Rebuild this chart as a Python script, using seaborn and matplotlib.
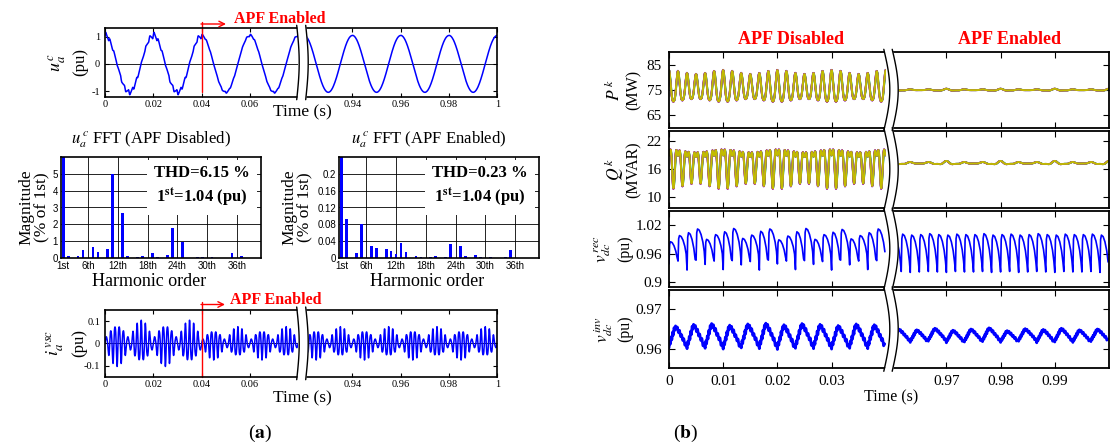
import numpy as np
import pandas as pd
import matplotlib
matplotlib.use('Agg')
import matplotlib.pyplot as plt
import seaborn as sns

###########################################################
#  Values                             #
###########################################################
# (a) u_a^c spectrum, % of the fundamental (1st = 1.04 pu)
harm_off = [1, 2, 4, 5, 7, 8, 10, 11, 13, 14, 16, 17, 19, 20, 22, 23, 25, 28, 29, 31, 35, 37]
mag_off = [100, 0.14, 0.14, 0.49, 0.66, 0.39, 0.55, 5.0, 2.65, 0.14, 0.08, 0.14, 0.33,
           0.08, 0.20, 1.78, 0.97, 0.08, 0.08, 0.08, 0.32, 0.14]
harm_on = [1, 2, 4, 5, 7, 8, 10, 11, 12, 13, 14, 16, 17, 19, 20, 22, 23, 25, 26, 28, 29, 31, 34, 35]
mag_on = [100, 0.092, 0.013, 0.081, 0.029, 0.024, 0.022, 0.018, 0.010, 0.037, 0.016, 0.0055,
          0.003, 0.003, 0.0055, 0.003, 0.034, 0.030, 0.0055, 0.008, 0.003, 0.003, 0.003, 0.020]
u_fund = 1.04
transient_share = 0.35  # harmonic content still left between 0.04 and 0.08 s
thd_labels = ['THD=6.15 %', 'THD=0.23 %']
fund_label = r'1$^{\mathbf{st}}$=1.04 (pu)'
fft_titles = [r'$u_a^{\,c}$ FFT (APF Disabled)', r'$u_a^{\,c}$ FFT (APF Enabled)']
harm_ticks = [1, 6, 12, 18, 24, 30, 36]
harm_ticklabels = ['1st', '6th', '12th', '18th', '24th', '30th', '36th']
fft_yticks = [[0, 1, 2, 3, 4, 5], [0, 0.04, 0.08, 0.12, 0.16, 0.2]]
fft_yticklabels = [['0', '1', '2', '3', '4', '5'], ['0', '0.04', '0.08', '0.12', '0.16', '0.2']]
fft_ytop = [6, 0.24]

# (a) APF current i_a^vsc: harmonic order and peak value (pu)
i_order = [11, 13, 23, 25]
i_amp_off = [0.058, -0.032, 0.008, -0.006]
i_amp_on = [0.040, -0.024, 0.006, -0.005]

apf_time = 0.04
a_windows = [(0.0, 0.08), (0.92, 1.0)]
a_ticks = [[0, 0.02, 0.04, 0.06], [0.94, 0.96, 0.98, 1.0]]
a_ticklabels = [['0', '0.02', '0.04', '0.06'], ['0.94', '0.96', '0.98', '1']]

# (b) windows, disabled on the left and enabled on the right
b_windows = [(0.0, 0.04), (0.96, 1.0)]
b_ticks = [[0, 0.01, 0.02, 0.03], [0.97, 0.98, 0.99]]
b_ticklabels = [['0', '0.01', '0.02', '0.03'], ['0.97', '0.98', '0.99']]

# P^k and Q^k: level, ripple swing, 2nd ripple swing, envelope depth  [disabled, enabled]
p_level = [75.6, 75.0]
p_swing = [5.6, 0.22]
p_swing2 = [0.9, 0.10]
q_level = [17.4, 17.3]
q_swing = [3.2, 0.22]
q_swing2 = [-1.8, 0.10]
pq_env = [0.12, 0.5]
env_hz = 100
ripple_hz = [600, 300]
trace_names = ['k1', 'k2', 'k3', 'k4', 'k5', 'k6', 'k7']
trace_colors = ['#0000ff', '#00a000', '#ff0000', '#00bfbf', '#d000d0', '#9a8060', '#c2bb00']
trace_phase = [0.10, -0.10, 0.06, -0.07, 0.05, 0.12, 0.0]
trace_gain = [1.02, 0.99, 1.01, 0.985, 1.02, 1.0, 1.0]

# v_dc^rec, one tooth per 1/600 s
rec_period = 1 / 600
rec_tooth_phase = [0.0, 0.07, 0.16, 0.35, 0.55, 0.75, 0.90]
rec_tooth_level = [0.0, 0.88, 1.0, 0.96, 0.82, 0.58, 0.28]
rec_peak_off = [0.985, 0.998, 1.004, 1.012, 0.990, 1.000, 1.006, 1.013, 0.992, 0.999, 1.007, 1.012,
                0.989, 0.997, 1.006, 1.013, 0.990, 1.000, 1.005, 1.011, 0.991, 0.998, 1.004, 1.012]
rec_trough_off = [0.938, 0.944, 0.925, 0.946, 0.937, 0.944, 0.926, 0.945, 0.936, 0.943, 0.925, 0.946,
                  0.938, 0.944, 0.926, 0.945, 0.937, 0.943, 0.925, 0.946, 0.936, 0.944, 0.926, 0.945]
rec_peak_on = [1.000, 1.001, 0.999, 1.000, 1.002, 1.000, 0.999, 1.001, 1.000, 1.000, 1.002, 0.999,
               1.000, 1.001, 0.999, 1.000, 1.002, 1.000, 0.999, 1.001, 1.000, 1.000, 1.001, 0.999]
rec_trough_on = [0.921, 0.922, 0.920, 0.921, 0.922, 0.921, 0.920, 0.922, 0.921, 0.921, 0.922, 0.920,
                 0.921, 0.922, 0.920, 0.921, 0.922, 0.921, 0.920, 0.922, 0.921, 0.921, 0.922, 0.920]

# v_dc^inv, one ragged tooth per 1/300 s
inv_period = 1 / 300
inv_tooth_phase = [0.0, 0.04, 0.08, 0.12, 0.16, 0.20, 0.24, 0.28, 0.32, 0.36, 0.40,
                   0.46, 0.52, 0.58, 0.64, 0.70, 0.76, 0.82, 0.88, 0.94]
inv_tooth_level = [0.0, 0.30, 0.18, 0.50, 0.38, 0.72, 0.58, 0.92, 0.80, 1.0, 0.86,
                   0.95, 0.70, 0.80, 0.52, 0.60, 0.34, 0.42, 0.12, 0.20]
inv_peak_off = [0.9658, 0.9662, 0.9664, 0.9660, 0.9663, 0.9665, 0.9661, 0.9664, 0.9662, 0.9659, 0.9663, 0.9661]
inv_trough_off = [0.9602, 0.9600, 0.9601, 0.9599, 0.9602, 0.9600, 0.9598, 0.9601, 0.9600, 0.9599, 0.9601, 0.9600]
inv_peak_on = [0.9650, 0.9648, 0.9652, 0.9647, 0.9650, 0.9653, 0.9646, 0.9651, 0.9649, 0.9652, 0.9648, 0.9650]
inv_trough_on = [0.9618, 0.9616, 0.9619, 0.9615, 0.9617, 0.9618, 0.9616, 0.9619, 0.9615, 0.9617, 0.9616, 0.9618]

###########################################################
#  Signals                                                #
###########################################################
W, H = 1110, 448
w50 = 2 * np.pi * 50


def u_wave(t, harm, mag):
    v = np.zeros_like(t)
    for h, m in zip(harm, mag):
        v += m / 100 * (np.cos(w50 * t) if h == 1 else np.sin(h * w50 * t))
    return u_fund * v


def i_wave(t, amps):
    return sum(a * np.sin(h * w50 * t) for h, a in zip(i_order, amps))


def pq_wave(t, level, swing, swing2, env, hz, ph, gain):
    th = 2 * np.pi * hz * t + ph
    amp = gain * (1 + env * np.cos(2 * np.pi * env_hz * t))
    return level + amp * (swing * np.cos(th) + swing2 * np.cos(2 * th))


def tooth_wave(t0, period, peaks, troughs, phase, level):
    t, v = [], []
    for i, (pk, tr) in enumerate(zip(peaks, troughs)):
        for ph, lv in zip(phase, level):
            t.append(t0 + (i + ph) * period)
            v.append(tr + lv * (pk - tr))
    return np.array(t), np.array(v)


###########################################################
#  Figure                                                 #
###########################################################
sns.set_style('white')
plt.rcParams['font.family'] = ['Liberation Serif', 'DejaVu Serif']
plt.rcParams['mathtext.fontset'] = 'stix'
plt.rcParams['axes.unicode_minus'] = False
plt.rcParams['axes.edgecolor'] = 'black'
plt.rcParams['xtick.color'] = 'black'
plt.rcParams['ytick.color'] = 'black'
plt.rcParams['text.color'] = 'black'

fig = plt.figure(figsize=(W / 100, H / 100), dpi=100)


def px_axes(x0, y0, x1, y1):
    return fig.add_axes([x0 / W, 1 - y1 / H, (x1 - x0) / W, (y1 - y0) / H])


def broken_pair(x0, xs0, xs1, x1, y0, y1, windows, lw, size):
    axl = px_axes(x0, y0, xs0, y1)
    axr = px_axes(xs1, y0, x1, y1)
    for ax, win in zip((axl, axr), windows):
        ax.set_xlim(*win)
        for s in ax.spines.values():
            s.set_linewidth(lw)
        ax.tick_params(direction='in', length=3, width=0.8, labelsize=size,
                       top=True, bottom=True)
    axl.spines['right'].set_visible(False)
    axr.spines['left'].set_visible(False)
    axl.tick_params(left=True, right=False)
    axr.tick_params(left=False, right=True, labelleft=False)
    return axl, axr


ov = fig.add_axes([0, 0, 1, 1], zorder=10)
ov.set_xlim(0, W)
ov.set_ylim(H, 0)
ov.axis('off')


def draw_break(xc, y0, y1, bulge, half):
    yy = np.linspace(y0 - 3, y1 + 3, 60)
    xx = xc + bulge * np.sin(np.pi * (yy - yy[0]) / (yy[-1] - yy[0]))
    ov.fill_betweenx(yy, xx - half, xx + half, color='white', lw=0)
    ov.plot(xx - half, yy, color='black', lw=1)
    ov.plot(xx + half, yy, color='black', lw=1)


# ---------------- (a) u_a^c ----------------
a_x = (105, 298.2, 304.1, 497.3)
ax1l, ax1r = broken_pair(*a_x, 28.3, 96.7, a_windows, 1.2, 7.5)
tl = np.arange(0, 0.08, 1e-5)
u_l = np.where(tl < apf_time, u_wave(tl, harm_off, mag_off),
               u_wave(tl, harm_on, mag_on) + transient_share *
               (u_wave(tl, harm_off, mag_off) - u_wave(tl, harm_on, mag_on)))
tr = np.arange(0.92, 1.0, 1e-5)
u_r = u_wave(tr, harm_on, mag_on)
for ax, t, v, k in ((ax1l, tl, u_l, 0), (ax1r, tr, u_r, 1)):
    ax.axhline(0, color='black', lw=0.6)
    sns.lineplot(x=t, y=v, ax=ax, color='blue', lw=1.1, estimator=None, sort=False)
    ax.set_ylim(-1.2, 1.3)
    ax.set_yticks([-1, 0, 1])
    ax.set_yticklabels(['-1', '0', '1'])
    ax.set_xticks(a_ticks[k])
    ax.set_xticklabels(a_ticklabels[k])
    ax.tick_params(axis='x', pad=2.5)
ax1l.axvline(apf_time, ymin=0.064, ymax=1.096, color='red', lw=1, clip_on=False)
ov.annotate('', xy=(226, 24), xytext=(201, 24),
            arrowprops=dict(arrowstyle='->', color='red', lw=1, shrinkA=0, shrinkB=0))
ov.text(234, 19, 'APF Enabled', color='red', fontweight='bold', fontsize=11.5,
        ha='left', va='center')
ov.text(57, 62, r'$u_a^{\,c}$', rotation=90, fontsize=13, ha='center', va='center')
ov.text(80, 62, '(pu)', rotation=90, fontsize=12, ha='center', va='center')
ov.text(302, 112, 'Time (s)', fontsize=12.5, ha='center', va='center')
draw_break(301.2, 28.3, 96.7, 2.5, 4.5)

# ---------------- (a) FFT bars ----------------
fft_boxes = [(60.7, 156.7, 260.7, 258.3), (339, 156.7, 539, 258.3)]
all_orders = list(range(1, 41))
for k, (harm, mag) in enumerate(((harm_off, mag_off), (harm_on, mag_on))):
    ax = px_axes(*fft_boxes[k])
    df = pd.DataFrame({'order': all_orders,
                       'mag': pd.Series(mag, index=harm).reindex(all_orders, fill_value=0).values})
    sns.barplot(data=df, x='order', y='mag', width=0.55, color='blue', saturation=1,
                errorbar=None, ax=ax, zorder=3, lw=0)
    # categorical position of harmonic h is h - 1
    ax.set_xlim(-0.5, 39.8)
    ax.set_ylim(0, fft_ytop[k])
    ax.set_xticks([h - 1 for h in harm_ticks])
    ax.set_xticklabels(harm_ticklabels, family='Liberation Sans')
    ax.set_yticks(fft_yticks[k])
    ax.set_yticklabels(fft_yticklabels[k], family='Liberation Sans')
    ax.tick_params(labelsize=7, direction='in', length=0, pad=2)
    ax.grid(True, color='black', lw=0.6)
    ax.set_axisbelow(True)
    for s in ax.spines.values():
        s.set_linewidth(1.2)
        s.set_zorder(6)
    ax.set_xlabel('')
    ax.set_ylabel('')
    ax.text(0.705, 0.705, thd_labels[k] + '\n' + fund_label, transform=ax.transAxes,
            fontsize=12, fontweight='bold', ha='center', va='center', linespacing=1.3,
            zorder=5, bbox=dict(fc='white', ec='none', pad=5))
    xc = (fft_boxes[k][0] + fft_boxes[k][2]) / 2
    ov.text(xc - 10, 140, fft_titles[k], fontsize=12, ha='center', va='center')
    ov.text(xc - 12, 282, 'Harmonic order', fontsize=13, ha='center', va='center')
    ov.text(fft_boxes[k][0] - 50 + (k == 0) * 16, 207, 'Magnitude', rotation=90,
            fontsize=12.5, ha='center', va='center')
    ov.text(fft_boxes[k][0] - 34 + (k == 0) * 16, 207, '(% of 1st)', rotation=90,
            fontsize=12.5, ha='center', va='center')

# ---------------- (a) i_a^vsc ----------------
ax4l, ax4r = broken_pair(*a_x, 310, 376.7, a_windows, 1.2, 7.5)
i_l = np.where(tl < apf_time, i_wave(tl, i_amp_off), i_wave(tl, i_amp_on))
i_r = i_wave(tr, i_amp_on)
for ax, t, v, k in ((ax4l, tl, i_l, 0), (ax4r, tr, i_r, 1)):
    ax.axhline(0, color='black', lw=0.6)
    sns.lineplot(x=t, y=v, ax=ax, color='blue', lw=1.1, estimator=None, sort=False)
    ax.set_ylim(-0.15, 0.15)
    ax.set_yticks([-0.1, 0, 0.1])
    ax.set_yticklabels(['-0.1', '0', '0.1'])
    ax.set_xticks(a_ticks[k])
    ax.set_xticklabels(a_ticklabels[k])
    ax.tick_params(axis='x', pad=2.5)
ax4l.axvline(apf_time, ymin=0, ymax=1.124, color='red', lw=1, clip_on=False)
ov.annotate('', xy=(225, 304.5), xytext=(201, 304.5),
            arrowprops=dict(arrowstyle='->', color='red', lw=1, shrinkA=0, shrinkB=0))
ov.text(230, 299.5, 'APF Enabled', color='red', fontweight='bold', fontsize=11.5,
        ha='left', va='center')
ov.text(55, 343, r'$i_a^{\,vsc}$', rotation=90, fontsize=13, ha='center', va='center')
ov.text(79, 343, '(pu)', rotation=90, fontsize=12, ha='center', va='center')
ov.text(302, 398, 'Time (s)', fontsize=12.5, ha='center', va='center')
draw_break(301.2, 310, 376.7, 2.5, 4.5)

# ---------------- (b) ----------------
b_x = (669, 885.8, 892.2, 1109)
b_rows = [(52.3, 127.6), (130.6, 207.8), (211.0, 286.6), (289.8, 368.3)]
b_ylim = [(60, 90), (7.7, 24.3), (0.89, 1.05), (0.955, 0.975)]
b_yticks = [[65, 75, 85], [10, 16, 22], [0.9, 0.96, 1.02], [0.96, 0.97]]
b_yticklabels = [['65', '75', '85'], ['10', '16', '22'], ['0.9', '0.96', '1.02'], ['0.96', '0.97']]
b_lab1 = [r'$P^{\,k}$', r'$Q^{\,k}$', r'$v_{dc}^{\,rec}$', r'$v_{dc}^{\,inv}$']
b_lab2 = ['(MW)', '(MVAR)', '(pu)', '(pu)']
b_lab_x = [(614, 634), (614, 634), (603, 625), (603, 625)]

tb = [np.arange(b_windows[0][0], b_windows[0][1], 5e-6),
      np.arange(b_windows[1][0], b_windows[1][1], 5e-6)]
for r, (y0, y1) in enumerate(b_rows):
    axl, axr = broken_pair(*b_x, y0, y1, b_windows, 1.3, 11)
    for k, ax in enumerate((axl, axr)):
        t = tb[k]
        if r < 2:
            lv, sw, sw2 = ((p_level, p_swing, p_swing2), (q_level, q_swing, q_swing2))[r]
            frames = []
            for name, ph, g in zip(trace_names, trace_phase, trace_gain):
                frames.append(pd.DataFrame({'t': t, 'v': pq_wave(t, lv[k], sw[k], sw2[k], pq_env[k],
                                                                  ripple_hz[k], ph, g),
                                            'trace': name}))
            df = pd.concat(frames)
            sns.lineplot(data=df, x='t', y='v', hue='trace', hue_order=trace_names,
                         palette=trace_colors, ax=ax, lw=1.3, estimator=None,
                         sort=False, legend=False)
        elif r == 2:
            tt, vv = tooth_wave(b_windows[k][0], rec_period,
                                (rec_peak_off, rec_peak_on)[k], (rec_trough_off, rec_trough_on)[k],
                                rec_tooth_phase, rec_tooth_level)
            sns.lineplot(x=tt, y=vv, ax=ax, color='blue', lw=1.2, estimator=None, sort=False)
        else:
            tt, vv = tooth_wave(b_windows[k][0], inv_period,
                                (inv_peak_off, inv_peak_on)[k], (inv_trough_off, inv_trough_on)[k],
                                inv_tooth_phase, inv_tooth_level)
            sns.lineplot(x=tt, y=vv, ax=ax, color='blue', lw=2.0, estimator=None, sort=False)
        ax.set_xlim(*b_windows[k])
        ax.set_ylim(*b_ylim[r])
        ax.set_yticks(b_yticks[r])
        ax.set_yticklabels(b_yticklabels[r])
        ax.set_xticks(b_ticks[k])
        ax.set_xticklabels(b_ticklabels[k] if r == 3 else [])
        ax.tick_params(length=4, pad=5)
        ax.set_xlabel('')
        ax.set_ylabel('')
    yc = (y0 + y1) / 2
    ov.text(b_lab_x[r][0], yc, b_lab1[r], rotation=90, fontsize=12.5, ha='center', va='center')
    ov.text(b_lab_x[r][1], yc, b_lab2[r], rotation=90, fontsize=11.5, ha='center', va='center')
    draw_break(888, y0, y1, 6, 4.2)

ov.text(791, 40, 'APF Disabled', color='red', fontweight='bold', fontsize=13,
        ha='center', va='center')
ov.text(1010, 40, 'APF Enabled', color='red', fontweight='bold', fontsize=13,
        ha='center', va='center')
ov.text(891, 397, 'Time (s)', fontsize=11.5, ha='center', va='center')

ov.text(260, 433, r'($\mathbf{a}$)', fontsize=14, ha='center', va='center')
ov.text(686, 433, r'($\mathbf{b}$)', fontsize=14, ha='center', va='center')

fig.savefig('out.png', dpi=100)
